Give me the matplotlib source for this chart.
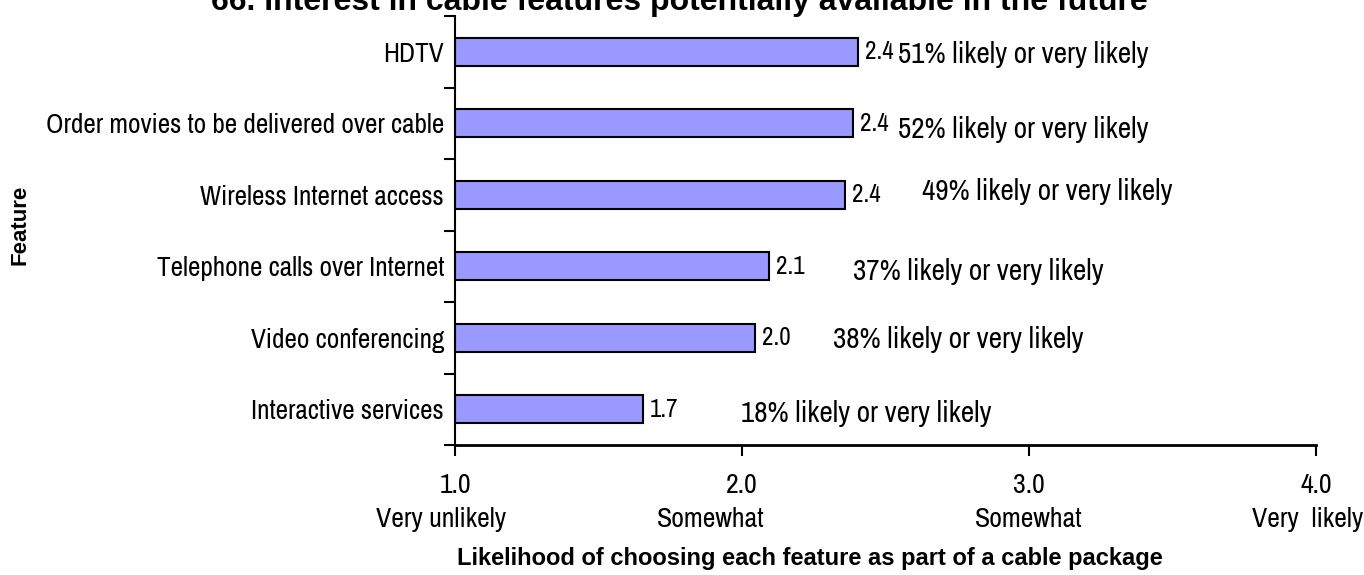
import matplotlib.pyplot as plt
from matplotlib import font_manager
from matplotlib.font_manager import FontProperties

# look for a narrow face like the original's Arial Narrow
narrow_file = None
for f in font_manager.fontManager.ttflist:
    if f.style != 'normal' or f.weight not in (400, 'normal', 'regular'):
        continue
    tag = (f.name + ' ' + str(f.stretch) + ' ' + f.fname).lower()
    if 'narrow' in tag:
        narrow_file = f.fname
        break
    if narrow_file is None and ('condensed' in tag) and 'semi' not in tag:
        narrow_file = f.fname


def fp(size):
    if narrow_file:
        return FontProperties(fname=narrow_file, size=size)
    return FontProperties(family='Liberation Sans', size=size * 0.85)


features = ['Interactive services', 'Video conferencing', 'Telephone calls over Internet',
            'Wireless Internet access', 'Order movies to be delivered over cable', 'HDTV']
scores = [1.655, 2.045, 2.094, 2.36, 2.387, 2.404]
score_labels = ['1.7', '2.0', '2.1', '2.4', '2.4', '2.4']
pct_likely = [18, 38, 37, 49, 52, 51]
scale_ticks = [1.0, 2.0, 3.0, 4.0]
scale_words = ['Very unlikely', 'Somewhat', 'Somewhat', 'Very  likely']

# where the percent notes sit (x in scale units, y offset from bar centre)
note_x = [1.997, 2.317, 2.387, 2.627, 2.544, 2.544]
note_dy = [-0.06, -0.03, -0.07, 0.05, -0.09, -0.04]
word_x = [0.95, 1.89, 3.0, 3.97]

fig = plt.figure(figsize=(13.64, 5.75), dpi=100)
ax = fig.add_axes([455 / 1364, 130 / 575, 861 / 1364, 429 / 575])

y = range(len(features))
ax.barh(y, [s - 1 for s in scores], left=1, height=0.39,
        color='#9999FF', edgecolor='black', linewidth=1.5)

for i in y:
    ax.text(scores[i] + 0.025, i, score_labels[i], va='center', ha='left',
            fontproperties=fp(18))
    ax.text(note_x[i], i + note_dy[i], f'{pct_likely[i]}% likely or very likely',
            va='center', ha='left', fontproperties=fp(21))

ax.set_xlim(1, 4)
ax.set_ylim(-0.5, 5.5)
ax.set_yticks([i - 0.5 for i in range(7)])
ax.set_yticklabels([])
ax.set_yticks(list(y), minor=True)
ax.set_yticklabels(features, minor=True)
for lab in ax.get_yticklabels(minor=True):
    lab.set_fontproperties(fp(19.6))
ax.tick_params(axis='y', which='minor', length=0, pad=8)
ax.tick_params(axis='y', which='major', length=8, width=1.5)
ax.set_xticks(scale_ticks)
ax.set_xticklabels([f'{t:.1f}' for t in scale_ticks])
for lab in ax.get_xticklabels():
    lab.set_fontproperties(fp(20))
ax.tick_params(axis='x', length=8, width=1.5, pad=12)

for xw, w in zip(word_x, scale_words):
    ax.text(xw, -1.37, w, ha='center', va='top', fontproperties=fp(20))

for s in ['top', 'right']:
    ax.spines[s].set_visible(False)
ax.spines['left'].set_linewidth(1.5)
ax.spines['bottom'].set_linewidth(2)

fig.text(679 / 1364, 565 / 575, '66. Interest in cable features potentially available in the future',
         ha='center', va='baseline', fontsize=23, fontweight='bold', family='Liberation Sans')
fig.text(810 / 1364, 17 / 575, 'Likelihood of choosing each feature as part of a cable package',
         ha='center', va='center', fontsize=17, fontweight='bold', family='Liberation Sans')
fig.text(20 / 1364, 1 - 225 / 575, 'Feature', rotation=90, ha='center', va='center',
         fontsize=16, fontweight='bold', family='Liberation Sans')

fig.savefig('out.png', dpi=100)
